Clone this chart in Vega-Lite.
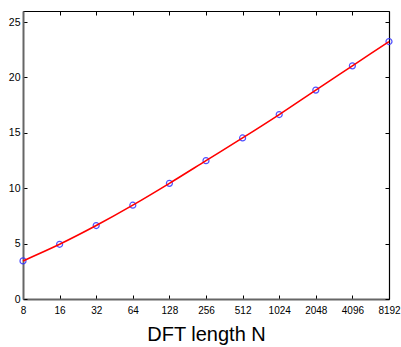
{
  "$schema": "https://vega.github.io/schema/vega-lite/v6.json",
  "width": 366,
  "height": 288,
  "autosize": "none",
  "padding": {"left": 23, "top": 11, "right": 12, "bottom": 48},
  "config": {
    "view": {"stroke": null},
    "font": "Liberation Sans",
    "axis": {"grid": false, "labelColor": "#000", "tickColor": "#000", "labelFontSize": 10, "tickSize": -4, "labelOverlap": false, "labelBound": false}
  },
  "data": {
    "values": [
      {"N": 8, "v": 3.44},
      {"N": 16, "v": 4.94},
      {"N": 32, "v": 6.63},
      {"N": 64, "v": 8.47},
      {"N": 128, "v": 10.44},
      {"N": 256, "v": 12.49},
      {"N": 512, "v": 14.54},
      {"N": 1024, "v": 16.65},
      {"N": 2048, "v": 18.86},
      {"N": 4096, "v": 21.05},
      {"N": 8192, "v": 23.24}
    ]
  },
  "layer": [
    {
      "mark": {"type": "point", "shape": "circle", "filled": false, "color": "#3333ff", "size": 36, "strokeWidth": 1.2, "opacity": 0.85},
      "encoding": {
        "x": {"field": "N", "type": "quantitative", "scale": {"type": "log", "base": 2, "domain": [8, 8192]},
          "axis": {"orient": "bottom", "values": [8, 16, 32, 64, 128, 256, 512, 1024, 2048, 4096, 8192], "format": "d", "labelFlush": false, "labelPadding": 10,
            "domainColor": "#666", "domainWidth": 2, "title": "DFT length N", "titleFontSize": 20, "titleFontWeight": "normal", "titleColor": "#000", "titleBaseline": "alphabetic", "titleY": 41}},
        "y": {"field": "v", "type": "quantitative", "scale": {"domain": [0, 25]},
          "axis": {"orient": "left", "values": [0, 5, 10, 15, 20, 25], "title": null, "labelPadding": 7, "domainColor": "#666", "domainWidth": 2, "labelFontSize": 10.5}}
      }
    },
    {
      "mark": {"type": "line", "color": "#ff0000", "strokeWidth": 1.6, "interpolate": "monotone"},
      "encoding": {
        "x": {"field": "N", "type": "quantitative", "axis": null},
        "y": {"field": "v", "type": "quantitative", "axis": null}
      }
    },
    {
      "mark": {"type": "point", "opacity": 0},
      "encoding": {
        "x": {"field": "N", "type": "quantitative",
          "axis": {"orient": "top", "values": [8, 16, 32, 64, 128, 256, 512, 1024, 2048, 4096, 8192], "labels": false, "title": null, "domainColor": "#000", "domainWidth": 1.2}},
        "y": {"field": "v", "type": "quantitative",
          "axis": {"orient": "right", "values": [0, 5, 10, 15, 20, 25], "labels": false, "title": null, "domainColor": "#000", "domainWidth": 1.2}}
      }
    }
  ],
  "resolve": {"axis": {"x": "independent", "y": "independent"}}
}
